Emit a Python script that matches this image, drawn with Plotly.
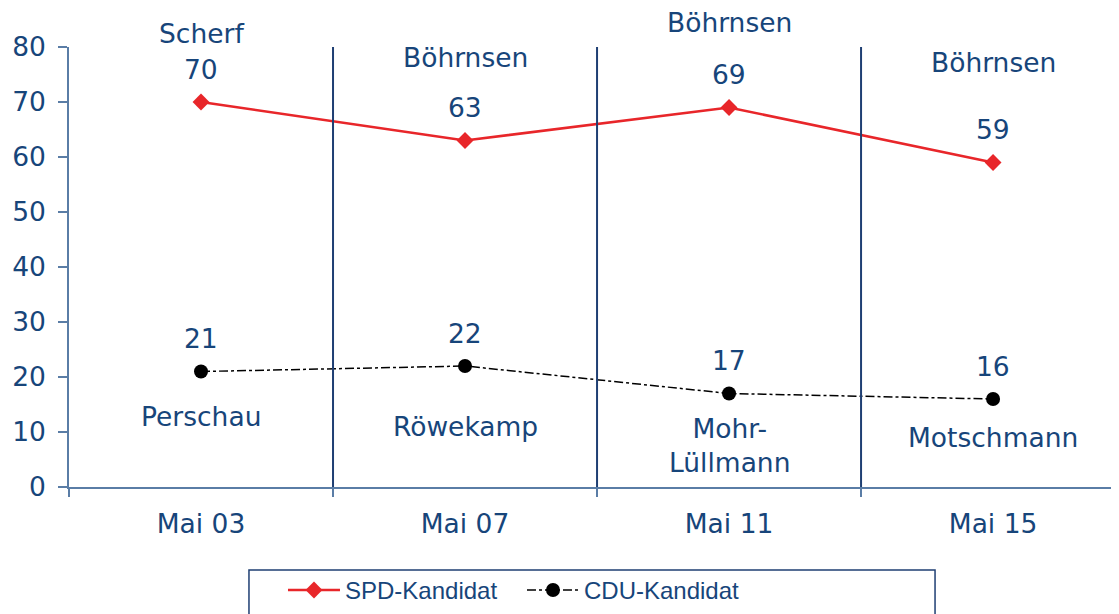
import plotly.graph_objects as go

categories = ["Mai 03", "Mai 07", "Mai 11", "Mai 15"]
spd_values = [70, 63, 69, 59]
cdu_values = [21, 22, 17, 16]
spd_names = ["Scherf", "Böhrnsen", "Böhrnsen", "Böhrnsen"]
cdu_names = ["Perschau", "Röwekamp", "Mohr-<br>Lüllmann", "Motschmann"]
y_ticks = [0, 10, 20, 30, 40, 50, 60, 70, 80]

NAVY = "#17457A"
AXIS = "#5A7DA6"
DIV = "#1F3F73"
FONT = "DejaVu Sans"
FS = 26.5

x = list(range(len(categories)))

fig = go.Figure()
fig.add_trace(go.Scatter(
    x=x, y=spd_values, name="SPD-Kandidat", mode="lines+markers",
    line=dict(color="#E8262A", width=2.5),
    marker=dict(symbol="diamond", size=13, color="#E8262A"),
))
fig.add_trace(go.Scatter(
    x=x, y=cdu_values, name="CDU-Kandidat", mode="lines+markers",
    line=dict(color="#000000", width=1.5, dash="dashdot"),
    marker=dict(symbol="circle", size=14, color="#000000"),
))

annotations = []
spd_name_shift = [69, 83, 85, 100]
for i, v in enumerate(spd_values):
    annotations.append(dict(x=i, y=v, text=str(v), showarrow=False, yshift=33,
                            font=dict(size=FS, color=NAVY, family=FONT)))
    annotations.append(dict(x=i, y=v, text=spd_names[i], showarrow=False, yshift=spd_name_shift[i],
                            font=dict(size=FS, color=NAVY, family=FONT)))
cdu_name_shift = [-45, -60, -52, -38]
for i, v in enumerate(cdu_values):
    annotations.append(dict(x=i, y=v, text=str(v), showarrow=False, yshift=33,
                            font=dict(size=FS, color=NAVY, family=FONT)))
    annotations.append(dict(x=i, y=v, text=cdu_names[i], showarrow=False, yshift=cdu_name_shift[i],
                            font=dict(size=FS, color=NAVY, family=FONT)))

shapes = []
for b in [0.5, 1.5, 2.5]:
    shapes.append(dict(type="line", xref="x", yref="y", x0=b, x1=b, y0=-0.9, y1=80,
                       line=dict(color=DIV, width=2)))
# legend frame (cut by the bottom edge like the original)
shapes.append(dict(type="rect", xref="paper", yref="paper", x0=0.1714, x1=0.8248,
                   y0=-0.1886, y1=-0.40, line=dict(color=DIV, width=1.5)))

# page body has an 8px margin, so the figure is 8px smaller than the window
fig.update_layout(
    width=1111, height=606,
    margin=dict(l=61, r=0, t=39, b=127),
    paper_bgcolor="white", plot_bgcolor="white",
    font=dict(family=FONT, size=FS, color=NAVY),
    showlegend=True,
    legend=dict(orientation="h", x=0.2038, xanchor="left", y=-0.184, yanchor="top",
                borderwidth=0, font=dict(size=24, color=NAVY, family="Liberation Sans"),
                itemwidth=52, entrywidth=172, bgcolor="rgba(0,0,0,0)",
                tracegroupgap=0),
    annotations=annotations,
    shapes=shapes,
    xaxis=dict(range=[-0.5, 3.477], tickvals=x, ticktext=categories, ticks="",
               showline=True, linecolor=AXIS, linewidth=1.5, showgrid=False, zeroline=False,
               automargin=False,
               tickfont=dict(size=FS, color=NAVY, family=FONT), ticklabelstandoff=12,
               minor=dict(tickvals=[-0.5, 0.5, 1.5, 2.5, 3.5], ticks="outside", ticklen=8,
                          tickcolor=AXIS, tickwidth=1.5, showgrid=False)),
    yaxis=dict(range=[0, 80], tickvals=y_ticks, ticks="outside", ticklen=9, tickcolor=AXIS,
               tickwidth=1.5, showline=True, linecolor=AXIS, linewidth=1.5, showgrid=False,
               zeroline=False, automargin=False,
               tickfont=dict(size=FS, color=NAVY, family=FONT),
               ticklabelstandoff=7),
)

fig.write_html("out.html")
